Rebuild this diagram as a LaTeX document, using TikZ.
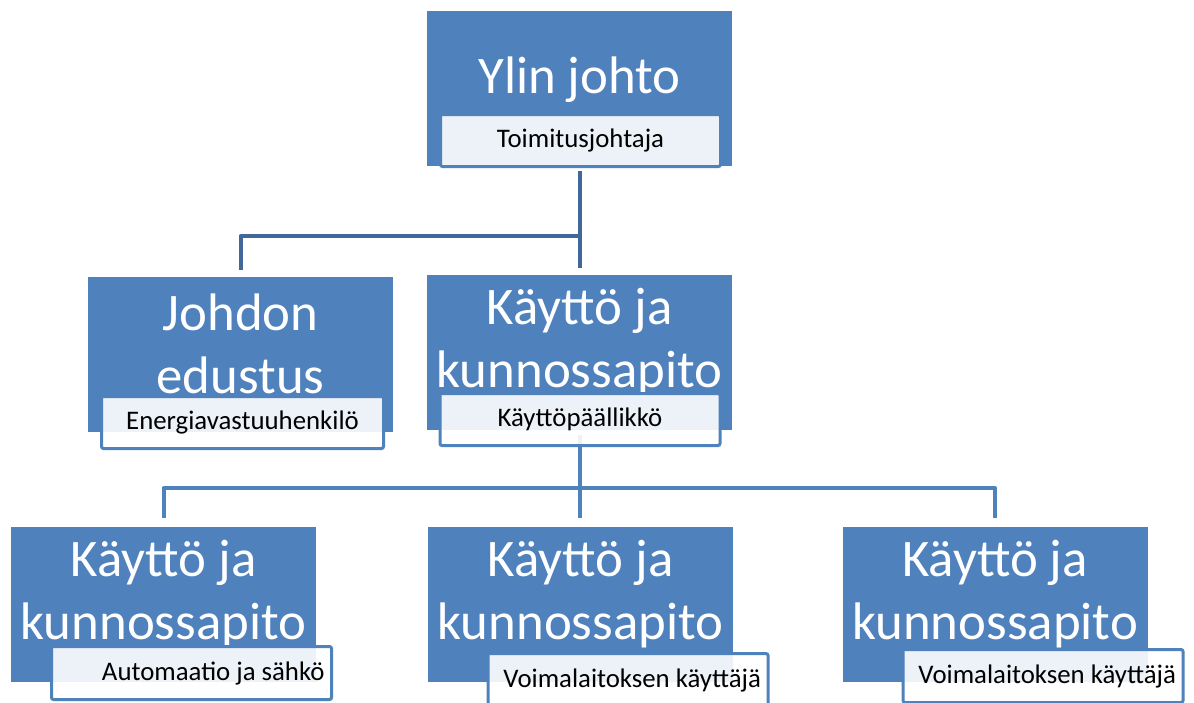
\documentclass[tikz,border=0pt]{standalone}
\usepackage{fontspec}
\setmainfont{Carlito}
\usetikzlibrary{calc,positioning}
\definecolor{orgblue}{HTML}{4F81BD}
\definecolor{lineblue}{HTML}{41679B}
\newcommand{\rolert}[1]{\makebox[266pt][r]{#1}}
\tikzset{
    unitbox/.style={rectangle, fill=orgblue, minimum width=305pt, minimum height=155pt, inner sep=0pt},
    title/.style={text=white, font=\fontsize{52.8}{63}\selectfont, align=center, inner sep=0pt},
    role/.style={rectangle, draw=orgblue, line width=3pt, rounded corners=2pt, fill=white,
        fill opacity=0.9, text opacity=1, font=\fontsize{26.8}{30}\selectfont,
        minimum width=280pt, minimum height=52pt, inner xsep=7pt},
    link/.style={draw=lineblue, line width=4pt, line join=round}
}

\begin{document}
\begin{tikzpicture}[x=1pt, y=-1pt]
        \clip (0,0) rectangle (1194,702);

        % units
        \draw (579.5,88.5) node[unitbox](top){};
        \draw (240.5,354) node[unitbox](left){};
        \draw (579.5,352.5) node[unitbox](mid){};
        \draw (163.5,604) node[unitbox](bl){};
        \draw (580.5,604) node[unitbox](bm){};
        \draw (995,604) node[unitbox](br){};

        \node[title] (topt) at ([yshift=9pt]top.center) {Ylin johto};
        \node[title] (leftt) at ([yshift=10pt]left.center) {Johdon\\edustus};
        \node[title] (midt) at ([yshift=10pt]mid.center) {Käyttö ja\\kunnossapito};
        \node[title] (blt) at ([yshift=10pt]bl.center) {Käyttö ja\\kunnossapito};
        \node[title] (bmt) at ([yshift=10pt]bm.center) {Käyttö ja\\kunnossapito};
        \node[title] (brt) at ([yshift=10pt]br.center) {Käyttö ja\\kunnossapito};

        % connectors
        \draw[link, shorten <=5pt, shorten >=7pt] (top.south) -- (top.south |- mid.north);
        \draw[link, shorten >=6pt] (top.south |- 0,236) -| (left.north);
        \draw[link, draw=orgblue, shorten <=5pt, shorten >=8pt] (mid.south) -- (mid.south |- bm.north);
        \draw[link, draw=orgblue, shorten >=8pt] (mid.south |- 0,488) -| (bl.north);
        \draw[link, draw=orgblue, shorten >=8pt] (mid.south |- 0,488) -| (br.north);

        % roles
        \draw (580.5,140.5) node[role](topr){Toimitusjohtaja};
        \draw (242.5,422.5) node[role, minimum width=282pt](leftr){Energiavastuuhenkilö};
        \draw (580,419.5) node[role](midr){Käyttöpäällikkö};
        \draw (191.5,673) node[role, minimum height=53pt](blr){\rolert{Automaatio ja sähkö}};
        \draw (628,680) node[role, minimum height=53pt](bmr){\rolert{Voimalaitoksen käyttäjä}};
        \draw (1043,676) node[role, minimum height=53pt](brr){\rolert{Voimalaitoksen käyttäjä}};
    \end{tikzpicture}
\end{document}
